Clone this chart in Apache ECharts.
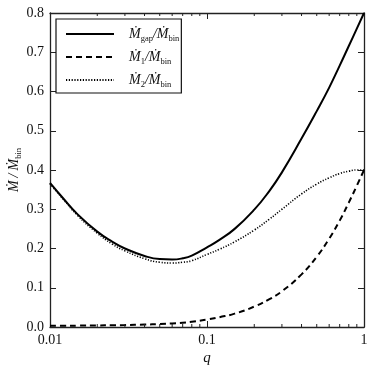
<!DOCTYPE html>
<html>
<head>
<meta charset="utf-8">
<script src="https://cdn.jsdelivr.net/npm/echarts@6/dist/echarts.min.js"></script>
<style>
html,body{margin:0;padding:0;background:#fff;}
#c{width:374px;height:368px;}
</style>
</head>
<body>
<div id="c"></div>
<script>
var qValues = [0.01, 0.012, 0.015, 0.02, 0.025, 0.03, 0.04, 0.05, 0.06, 0.07, 0.08, 0.1, 0.12, 0.15, 0.2, 0.25, 0.3, 0.4, 0.5, 0.6, 0.7, 0.8, 0.9, 1.0];
var gapValues = [0.367, 0.330, 0.287, 0.243, 0.217, 0.200, 0.181, 0.173, 0.172, 0.175, 0.182, 0.203, 0.222, 0.250, 0.299, 0.347, 0.394, 0.480, 0.550, 0.610, 0.666, 0.716, 0.760, 0.800];
var m1Values  = [0.003, 0.003, 0.0035, 0.004, 0.0045, 0.005, 0.0063, 0.0075, 0.009, 0.011, 0.0135, 0.019, 0.025, 0.034, 0.052, 0.071, 0.091, 0.134, 0.179, 0.225, 0.271, 0.317, 0.360, 0.400];
var m2Values  = [0.365, 0.328, 0.284, 0.239, 0.211, 0.194, 0.174, 0.165, 0.163, 0.165, 0.169, 0.185, 0.198, 0.217, 0.247, 0.275, 0.300, 0.339, 0.364, 0.380, 0.391, 0.397, 0.400, 0.400];
var xTickLabels = ['0.01', '0.1', '1'];
var yTickLabels = ['0.0','0.1','0.2','0.3','0.4','0.5','0.6','0.7','0.8'];
var minorTickQ = [0.02,0.03,0.04,0.05,0.06,0.07,0.08,0.09,0.2,0.3,0.4,0.5,0.6,0.7,0.8,0.9];

function pairs(vals){ return qValues.map(function(q,i){ return [q, vals[i]]; }); }

var FONT = '"Liberation Serif", "DejaVu Serif", serif';
var AXC = '#222';
var rich = {
  m: {fontFamily: FONT, fontStyle: 'italic', fontSize: 14, color: '#111', verticalAlign: 'middle'},
  s: {fontFamily: FONT, fontSize: 8.5, color: '#111', verticalAlign: 'bottom', padding: [0,0,-2,0]},
  n: {fontFamily: FONT, fontStyle: 'italic', fontSize: 14, color: '#111', verticalAlign: 'middle'},
  g: {fontFamily: FONT, fontStyle: 'italic', fontSize: 14, color: '#111', verticalAlign: 'middle', padding:[0,3,0,3]}
};
var legendText = {
  'gap': '{m|\u1E40}{s|gap}{n|/}{m|\u1E40}{s|bin}',
  'one': '{m|\u1E40}{s|1}{n|/}{m|\u1E40}{s|bin}',
  'two': '{m|\u1E40}{s|2}{n|/}{m|\u1E40}{s|bin}'
};

var chart = echarts.init(document.getElementById('c'), null, {renderer: 'canvas'});
var baseX = {
  type: 'log', logBase: 10, min: 0.01, max: 1,
  axisLine: {show: true, onZero: false, lineStyle: {color: AXC, width: 1.3}},
  axisTick: {show: true, inside: true, length: 6, lineStyle: {color: AXC, width: 1}},
  splitLine: {show: false}, minorTick: {show: false}
};
var baseY = {
  type: 'value', min: 0, max: 0.8, interval: 0.1,
  axisLine: {show: true, onZero: false, lineStyle: {color: AXC, width: 1.3}},
  axisTick: {show: true, inside: true, length: 6, lineStyle: {color: AXC, width: 1}},
  splitLine: {show: false}
};
var option = {
  animation: false,
  backgroundColor: '#fff',
  grid: {left: 50, right: 10, top: 13, bottom: 41, containLabel: false, outerBoundsMode: 'none'},
  xAxis: [
    Object.assign({}, baseX, {
      position: 'bottom',
      axisLabel: {show: true, fontFamily: FONT, fontSize: 14, color: '#111', margin: 6,
        formatter: function(v){ var e = Math.round(Math.log10(v)); return xTickLabels[e + 2]; }},
      name: 'q', nameLocation: 'middle', nameGap: 24, nameMoveOverlap: false,
      nameTextStyle: {fontFamily: FONT, fontStyle: 'italic', fontSize: 15, color: '#111'}
    }),
    Object.assign({}, baseX, {position: 'top', axisLabel: {show: false}})
  ],
  yAxis: [
    Object.assign({}, baseY, {
      position: 'left',
      axisLabel: {show: true, fontFamily: FONT, fontSize: 14, color: '#111', margin: 6,
        formatter: function(v){ return yTickLabels[Math.round(v * 10)]; }},
      name: '{m|\u1E40}{g|/}{m|\u1E40}{s|bin}', nameLocation: 'middle', nameGap: 29, nameRotate: 90,
      nameMoveOverlap: false,
      nameTextStyle: {rich: rich}
    }),
    Object.assign({}, baseY, {position: 'right', axisLabel: {show: false}})
  ],
  legend: {
    orient: 'vertical', left: 56, top: 19,
    backgroundColor: '#fff',
    borderColor: '#111', borderWidth: 1.2, borderRadius: 0,
    padding: [8, 2, 4, 9],
    itemWidth: 48, itemHeight: 14, itemGap: 7,
    itemStyle: {opacity: 0, color: 'rgba(0,0,0,0)', borderWidth: 0},
    data: ['gap', 'one', 'two'],
    formatter: function(name){ return legendText[name]; },
    textStyle: {rich: rich, padding: [0,0,0,10]}
  },
  series: [
    {name: 'gap', type: 'line', data: pairs(gapValues), showSymbol: false, symbol: 'none', smooth: true,
      lineStyle: {color: '#000', width: 2, type: 'solid'}, itemStyle: {color: '#000'}, z: 3},
    {name: 'one', type: 'line', data: pairs(m1Values), showSymbol: false, symbol: 'none', smooth: true,
      lineStyle: {color: '#000', width: 2, type: [6, 4]}, itemStyle: {color: '#000'}, z: 3},
    {name: 'two', type: 'line', data: pairs(m2Values), showSymbol: false, symbol: 'none', smooth: true,
      lineStyle: {color: '#000', width: 1.6, type: [1.2, 1.6]}, itemStyle: {color: '#000'}, z: 3},
    {name: 'minor', type: 'custom', data: minorTickQ.map(function(q){ return [q, 0]; }), silent: true, clip: false, z: 4,
      renderItem: function(params, api){
        var b = api.coord([api.value(0), 0]);
        var t = api.coord([api.value(0), 0.8]);
        var st = {stroke: AXC, lineWidth: 1};
        return {type: 'group', children: [
          {type: 'line', shape: {x1: b[0], y1: b[1], x2: b[0], y2: b[1] - 3}, style: st},
          {type: 'line', shape: {x1: t[0], y1: t[1], x2: t[0], y2: t[1] + 3}, style: st}
        ]};
      }}
  ]
};
chart.setOption(option);
</script>
</body>
</html>
